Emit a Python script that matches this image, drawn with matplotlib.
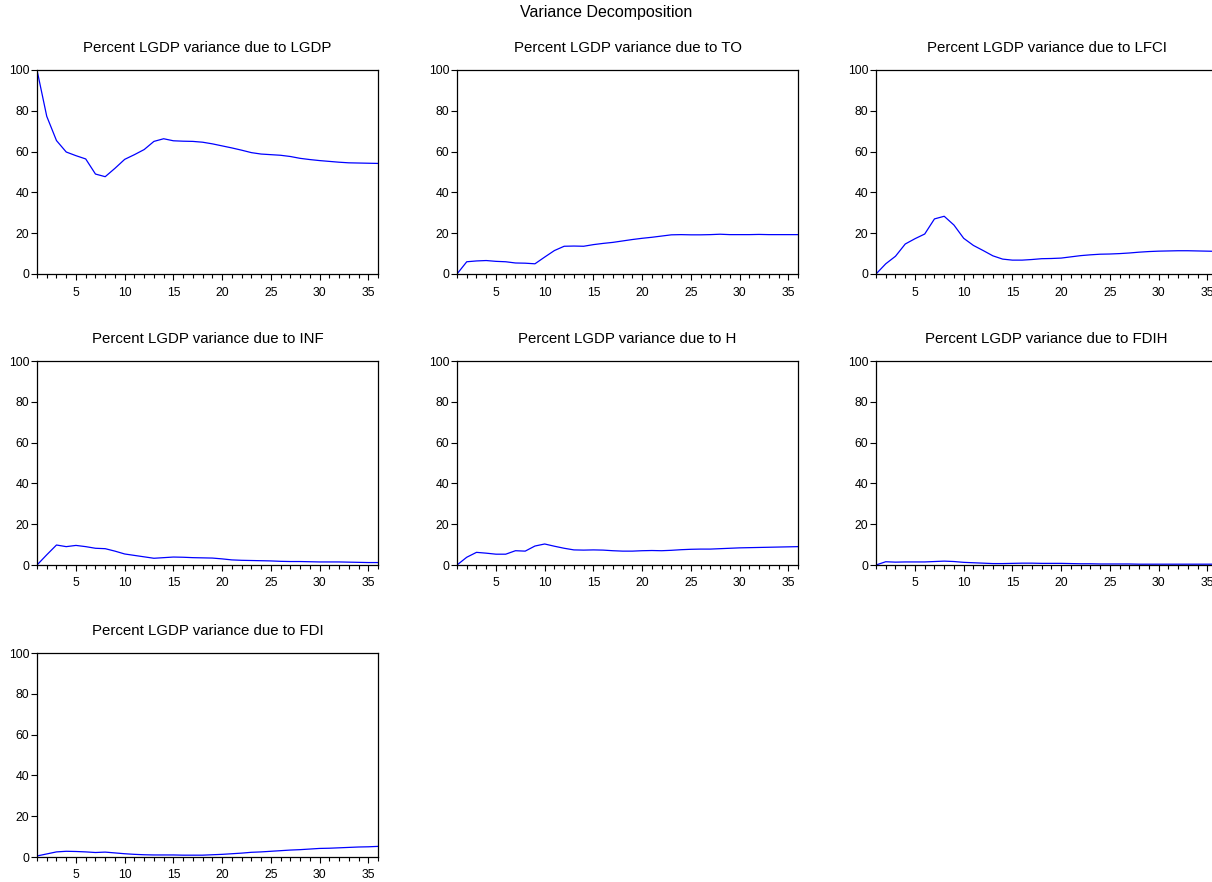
import numpy as np
import matplotlib
matplotlib.use('Agg')
import matplotlib.pyplot as plt
from matplotlib.ticker import MultipleLocator

plt.rcParams['font.family'] = ['Liberation Sans', 'DejaVu Sans']

periods = list(range(1, 37))

# percent of LGDP forecast variance due to each shock
lgdp = [100, 77.3, 65.4, 59.8, 58.0, 56.4, 49.0, 47.7, 51.8, 56.2, 58.5, 61.0,
        65.0, 66.3, 65.3, 65.1, 65.0, 64.6, 63.8, 62.8, 61.8, 60.7, 59.5, 58.8,
        58.5, 58.2, 57.6, 56.7, 56.1, 55.6, 55.2, 54.8, 54.5, 54.4, 54.3, 54.2]
to = [0, 6.0, 6.4, 6.6, 6.2, 6.0, 5.4, 5.3, 5.0, 8.3, 11.5, 13.6,
      13.7, 13.6, 14.4, 15.0, 15.5, 16.2, 16.9, 17.5, 18.0, 18.6, 19.2, 19.3,
      19.2, 19.2, 19.3, 19.5, 19.3, 19.3, 19.3, 19.4, 19.3, 19.3, 19.3, 19.3]
lfci = [0, 5.0, 8.7, 14.7, 17.3, 19.6, 27.0, 28.3, 24.0, 17.5, 14.0, 11.5,
        8.9, 7.3, 6.8, 6.8, 7.1, 7.5, 7.6, 7.8, 8.4, 9.0, 9.4, 9.7,
        9.8, 10.0, 10.3, 10.7, 11.0, 11.2, 11.3, 11.4, 11.4, 11.3, 11.2, 11.1]
inf = [0, 5.0, 9.8, 9.0, 9.6, 9.0, 8.2, 8.0, 6.8, 5.4, 4.7, 4.0,
       3.3, 3.6, 3.9, 3.8, 3.6, 3.5, 3.4, 3.0, 2.5, 2.3, 2.2, 2.1,
       2.0, 1.8, 1.7, 1.7, 1.6, 1.5, 1.5, 1.5, 1.4, 1.3, 1.2, 1.2]
h = [0, 3.8, 6.2, 5.8, 5.3, 5.3, 7.0, 6.8, 9.3, 10.3, 9.2, 8.2,
     7.4, 7.3, 7.4, 7.3, 7.0, 6.8, 6.8, 7.0, 7.1, 7.0, 7.2, 7.5,
     7.7, 7.8, 7.8, 8.0, 8.2, 8.4, 8.5, 8.6, 8.7, 8.8, 8.9, 9.0]
fdih = [0, 1.6, 1.4, 1.5, 1.5, 1.5, 1.7, 1.9, 1.7, 1.3, 1.1, 0.9,
        0.7, 0.7, 0.8, 0.9, 0.9, 0.8, 0.8, 0.8, 0.7, 0.6, 0.6, 0.5,
        0.5, 0.5, 0.5, 0.4, 0.4, 0.4, 0.4, 0.4, 0.4, 0.4, 0.4, 0.4]
fdi = [0.5, 1.5, 2.5, 2.8, 2.7, 2.5, 2.2, 2.4, 2.0, 1.6, 1.3, 1.1,
       1.0, 1.0, 1.0, 0.9, 0.9, 0.9, 1.1, 1.3, 1.6, 1.9, 2.3, 2.5,
       2.8, 3.1, 3.4, 3.6, 3.9, 4.2, 4.3, 4.5, 4.7, 4.9, 5.0, 5.2]

names = ['LGDP', 'TO', 'LFCI', 'INF', 'H', 'FDIH', 'FDI']
series = [lgdp, to, lfci, inf, h, fdih, fdi]

W, H = 1212, 882
fig = plt.figure(figsize=(W / 100, H / 100), dpi=100)

lefts = [37, 457, 876]
tops = [70, 361, 653]
aw, ah = 341, 204

for i, (name, vals) in enumerate(zip(names, series)):
    r, c = divmod(i, 3)
    ax = fig.add_axes([lefts[c] / W, 1 - (tops[r] + ah) / H, aw / W, ah / H])
    ax.plot(periods, vals, color='#0000ff', lw=0.9)
    ax.set_xlim(1, 36)
    ax.set_ylim(0, 100)
    ax.set_yticks([0, 20, 40, 60, 80, 100])
    ax.set_xticks([5, 10, 15, 20, 25, 30, 35])
    ax.xaxis.set_minor_locator(MultipleLocator(1))
    ax.tick_params(axis='both', which='major', direction='out', length=4,
                   width=0.8, labelsize=8.8, pad=1.5)
    ax.tick_params(axis='x', which='minor', direction='out', length=3, width=0.8)
    ax.tick_params(axis='x', which='major', pad=5)
    for s in ax.spines.values():
        s.set_linewidth(0.9)
    ax.set_title('Percent LGDP variance due to ' + name, fontsize=10.8, pad=13)

fig.text(0.5, 1 - 12 / H, 'Variance Decomposition', ha='center', va='center',
         fontsize=11.5)

fig.savefig('out.png', dpi=100)
